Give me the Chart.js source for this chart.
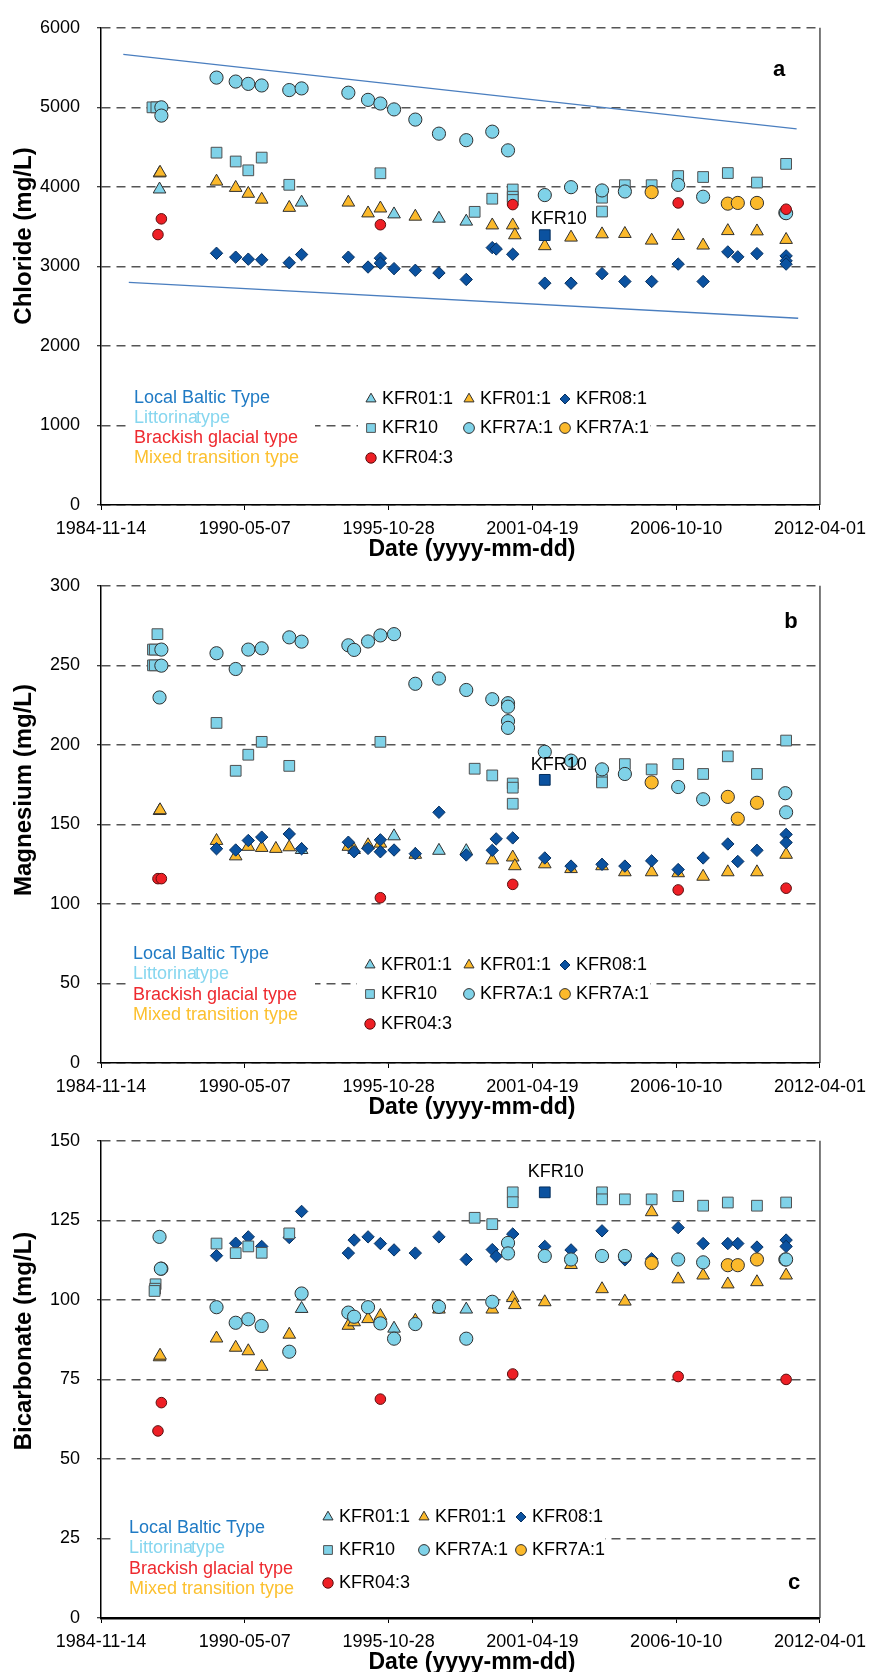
<!DOCTYPE html>
<html>
<head>
<meta charset="utf-8">
<script src="https://cdn.jsdelivr.net/npm/chart.js@4.4.1/dist/chart.umd.min.js"></script>
<style>
  html, body { margin: 0; padding: 0; background: #fff; overflow: hidden; width: 874px; height: 1672px; }
  canvas { position: absolute; left: 0; }
</style>
</head>
<body>
<canvas id="cl" width="874" height="562" style="top:0px"></canvas>
<canvas id="mg" width="874" height="562" style="top:558px"></canvas>
<canvas id="hco3" width="874" height="562" style="top:1113px"></canvas>
<script>
// x axis: sampling dates as decimal years, ticks every 2000 days from 1984-11-14
const tickYears = [1984.871, 1990.347, 1995.823, 2001.298, 2006.773, 2012.249];
const tickLabels = ['1984-11-14', '1990-05-07', '1995-10-28', '2001-04-19', '2006-10-10', '2012-04-01'];

const waterTypes = ['Local Baltic Type', 'Littorina', 'Brackish glacial type', 'Mixed transition type'];
const waterTypeColors = ['#1f7ac4', '#86d6ef', '#ee2a2f', '#fcc02f'];

// legend order: KFR01:1 (light), KFR01:1 (yellow), KFR08:1, KFR10, KFR7A:1 (light), KFR7A:1 (orange), KFR04:3
const seriesNames = ['KFR01:1', 'KFR01:1', 'KFR08:1', 'KFR10', 'KFR7A:1', 'KFR7A:1', 'KFR04:3'];

// ---- Chloride (mg/L) ----
const clTriLight = [[1987.10,3969],[1992.51,3804],[1996.03,3656],[1997.74,3602],[1998.78,3565]];
const clTriYellow = [[1987.10,4171],[1987.12,4180],[1989.27,4068],[1990.00,3989],[1990.48,3915],[1990.99,3841],[1992.04,3738],[1994.29,3804],[1995.04,3668],[1995.51,3730],[1996.84,3627],[1999.77,3517],[2000.55,3517],[2000.63,3393],[2001.77,3256],[2002.77,3364],[2003.95,3405],[2004.82,3410],[2005.84,3326],[2006.85,3384],[2007.80,3264],[2008.74,3446],[2009.85,3442],[2010.96,3335]];
const clDiamond = [[1989.27,3165],[1990.00,3116],[1990.48,3091],[1990.99,3083],[1992.04,3046],[1992.51,3149],[1994.29,3116],[1995.04,2992],[1995.51,3103],[1995.51,3041],[1996.03,2972],[1996.84,2951],[1997.74,2918],[1998.78,2836],[1999.77,3236],[1999.92,3219],[2000.55,3153],[2001.77,2789],[2002.77,2789],[2003.95,2909],[2004.82,2810],[2005.84,2810],[2006.85,3029],[2007.80,2810],[2008.74,3182],[2009.12,3120],[2009.85,3161],[2010.96,3132],[2010.96,3070],[2010.96,3029]];
const clSquare = [[1986.83,5000],[1986.98,5000],[1989.27,4430],[1990.00,4319],[1990.48,4208],[1990.99,4368],[1992.04,4026],[1995.51,4171],[1999.10,3686],[1999.77,3851],[2000.55,3967],[2000.55,3876],[2000.55,3835],[2003.95,3864],[2003.95,3690],[2004.82,4021],[2005.84,4021],[2006.85,4136],[2007.80,4124],[2008.74,4174],[2009.85,4054],[2010.96,4289]];
const clCircle = [[1987.17,5000],[1987.17,4896],[1989.27,5374],[1990.00,5324],[1990.48,5295],[1990.99,5275],[1992.04,5217],[1992.51,5238],[1994.29,5184],[1995.04,5094],[1995.51,5048],[1996.03,4974],[1996.84,4846],[1997.74,4669],[1998.78,4587],[1999.77,4694],[2000.37,4459],[2001.77,3897],[2002.77,3996],[2003.95,3955],[2004.82,3942],[2006.85,4025],[2007.80,3876],[2010.93,3675],[2010.96,3669]];
const clOrange = [[2005.84,3934],[2008.74,3789],[2009.12,3798],[2009.85,3798]];
const clRed = [[1987.04,3400],[1987.17,3598],[1995.51,3524],[2000.55,3777],[2006.85,3798],[2010.96,3719]];
const clKfr10 = [[2001.77,3393]];
const clTrendUpper = [[1985.72,5665],[2011.36,4730]];
const clTrendLower = [[1985.93,2800],[2011.42,2348]];

// ---- Magnesium (mg/L) ----
const mgTriLight = [[1992.51,134],[1996.03,142.6],[1997.74,133.5],[1998.78,133.3]];
const mgTriYellow = [[1987.10,158.5],[1987.12,159],[1989.27,139.7],[1990.00,130],[1990.48,136],[1990.99,135.3],[1991.53,134.7],[1992.04,135.7],[1994.29,136],[1994.51,134],[1995.04,137],[1995.51,138],[1996.84,131],[1999.77,127.5],[2000.55,129.3],[2000.63,123.8],[2001.77,125],[2002.77,122],[2003.95,123.8],[2004.82,120],[2005.84,120],[2006.85,119.4],[2007.80,117.2],[2008.74,120],[2009.85,120],[2010.96,131]];
const mgDiamond = [[1989.27,134.7],[1990.00,133.9],[1990.48,139.9],[1990.99,142],[1992.04,144],[1992.51,134.7],[1994.29,138.8],[1994.51,132.8],[1995.04,134.9],[1995.51,140.3],[1995.51,132.8],[1996.03,133.9],[1996.84,131.6],[1997.74,157.6],[1998.78,130.8],[1999.77,133.7],[1999.92,140.9],[2000.55,141.5],[2001.77,128.9],[2002.77,123.8],[2003.95,124.9],[2004.82,123.8],[2005.84,127.1],[2006.85,121.6],[2007.80,128.9],[2008.74,137.7],[2009.12,126.7],[2009.85,133.7],[2010.96,143.7],[2010.96,138.6]];
const mgSquare = [[1987.02,269.6],[1986.85,259.9],[1986.92,259.9],[1986.85,250],[1986.92,250],[1989.27,213.8],[1990.00,183.7],[1990.48,193.8],[1990.99,201.9],[1992.04,186.8],[1995.51,201.9],[1999.10,185],[1999.77,180.8],[2000.55,175.7],[2000.55,173.1],[2000.55,163],[2003.95,178],[2003.95,176.4],[2004.82,187.9],[2005.84,184.6],[2006.85,187.9],[2007.80,181.7],[2008.74,192.8],[2009.85,181.7],[2010.96,202.7]];
const mgCircle = [[1987.17,259.9],[1987.17,249.8],[1987.10,229.8],[1989.27,257.6],[1990.00,247.7],[1990.48,259.9],[1990.99,260.7],[1992.04,267.6],[1992.51,264.9],[1994.29,262.6],[1994.51,259.7],[1995.04,265],[1995.51,268.8],[1996.03,269.6],[1996.84,238.4],[1997.74,241.7],[1998.78,234.5],[1999.77,228.7],[2000.37,226.2],[2000.37,224],[2000.37,214.9],[2000.37,210.7],[2001.77,195.6],[2002.77,190.1],[2003.95,184.6],[2004.82,181.7],[2006.85,173.5],[2007.80,165.8],[2010.93,169.6],[2010.96,157.6]];
const mgOrange = [[2005.84,176.4],[2008.74,167.3],[2009.12,153.6],[2009.85,163.6]];
const mgRed = [[1987.04,115.9],[1987.17,115.9],[1995.51,103.9],[2000.55,112.3],[2006.85,108.8],[2010.96,109.9]];
const mgKfr10 = [[2001.77,178]];

// ---- Bicarbonate (mg/L) ----
const hcTriLight = [[1992.51,97.2],[1996.03,91],[1998.78,97]];
const hcTriYellow = [[1987.10,82],[1987.12,82.5],[1989.27,87.9],[1990.00,85],[1990.48,83.9],[1990.99,79],[1992.04,89.1],[1994.29,91.9],[1994.51,93],[1995.04,94],[1995.51,95],[1996.84,93.5],[1997.74,97],[1999.77,97],[2000.55,100.6],[2000.63,98.4],[2001.77,99.3],[2002.77,111],[2003.95,103.4],[2004.82,99.5],[2005.84,127.6],[2006.85,106.5],[2007.80,107.7],[2008.74,104.9],[2009.85,105.6],[2010.96,107.7]];
const hcDiamond = [[1989.27,113.9],[1990.00,117.8],[1990.48,119.8],[1990.99,116.8],[1992.04,119.6],[1992.51,127.8],[1994.29,114.7],[1994.51,118.8],[1995.04,119.8],[1995.51,117.7],[1996.03,115.7],[1996.84,114.7],[1997.74,119.8],[1998.78,112.7],[1999.77,115.8],[1999.92,113.7],[2000.55,120.7],[2001.77,116.8],[2002.77,115.7],[2003.95,121.7],[2004.82,112.6],[2005.84,112.9],[2006.85,122.7],[2007.80,117.7],[2008.74,117.7],[2009.12,117.7],[2009.85,116.6],[2010.96,118.8],[2010.96,116.8]];
const hcSquare = [[1986.95,104.9],[1986.93,103.5],[1986.91,102.8],[1989.27,117.7],[1990.00,114.7],[1990.48,116.8],[1990.99,114.8],[1992.04,120.9],[1999.10,125.8],[1999.77,123.8],[2000.55,133.8],[2000.55,130.7],[2003.95,133.8],[2003.95,131.6],[2004.82,131.6],[2005.84,131.6],[2006.85,132.6],[2007.80,129.6],[2008.74,130.6],[2009.85,129.6],[2010.96,130.6]];
const hcCircle = [[1987.10,119.8],[1987.17,109.8],[1987.15,109.8],[1989.27,97.7],[1990.00,92.8],[1990.48,93.9],[1990.99,91.8],[1992.04,83.7],[1992.51,102],[1994.29,96],[1994.51,94.7],[1995.04,97.7],[1995.51,92.6],[1996.03,87.8],[1996.84,92.4],[1997.74,97.8],[1998.78,87.8],[1999.77,99.4],[2000.37,117.9],[2000.37,114.6],[2001.77,113.8],[2002.77,112.7],[2003.95,113.8],[2004.82,113.8],[2006.85,112.7],[2007.80,111.8],[2010.93,112.7],[2010.96,112.7]];
const hcOrange = [[2005.84,111.6],[2008.74,110.9],[2009.12,110.9],[2009.85,112.7]];
const hcRed = [[1987.04,58.8],[1987.17,67.7],[1995.51,68.8],[2000.55,76.7],[2006.85,75.9],[2010.96,75]];
const hcKfr10 = [[2001.77,133.8]];

// marker look per series (same order as seriesNames)
const markerStyles = [
  { pointStyle: 'triangle', r: 7.3, fill: '#7fd2e8', edge: '#303030' },
  { pointStyle: 'triangle', r: 7.3, fill: '#fbb92b', edge: '#303030' },
  { pointStyle: 'rectRot', r: 6.2, fill: '#0b52a0', edge: '#08305e' },
  { pointStyle: 'rect', r: 7.6, fill: '#7fd2e8', edge: '#505050' },
  { pointStyle: 'circle', r: 6.6, fill: '#7fd2e8', edge: '#303030' },
  { pointStyle: 'circle', r: 6.6, fill: '#fbb92b', edge: '#303030' },
  { pointStyle: 'circle', r: 5.3, fill: '#ee1f25', edge: '#5a1010' }
];
const kfr10Style = { pointStyle: 'rect', r: 7.6, fill: '#0b52a0', edge: '#06305e' };

const FONT = '"Liberation Sans", Arial, sans-serif';
Chart.defaults.font.family = FONT;
Chart.defaults.color = '#000';

const toXY = pairs => pairs.map(p => ({ x: p[0], y: p[1] }));

function scatterSet(pairs, st, order) {
  return {
    data: toXY(pairs), order: order, showLine: false,
    pointStyle: st.pointStyle, pointRadius: st.r, pointHoverRadius: st.r,
    backgroundColor: st.fill, borderColor: st.edge, pointBorderWidth: 1, borderWidth: 1
  };
}

function drawMarker(ctx, st, x, y, r) {
  ctx.save();
  ctx.fillStyle = st.fill;
  ctx.strokeStyle = st.edge;
  ctx.lineWidth = 1;
  Chart.helpers.drawPoint(ctx, { pointStyle: st.pointStyle, radius: r, rotation: 0, borderWidth: 1 }, x, y);
  ctx.restore();
}

// extra drawing: frame, legend blocks, titles, panel letter, KFR10 note
const decor = {
  id: 'decor',
  beforeDatasetsDraw(chart, args, o) {
    const ctx = chart.ctx, a = chart.chartArea;
    ctx.save();
    ctx.fillStyle = '#fff';
    o.boxes.forEach(b => ctx.fillRect(b[0], b[1], b[2], b[3]));
    ctx.strokeStyle = '#333';
    ctx.lineWidth = 1.3;
    ctx.beginPath();
    ctx.moveTo(a.right, a.top);
    ctx.lineTo(a.right, a.bottom);
    ctx.stroke();
    ctx.restore();
  },
  afterDraw(chart, args, o) {
    const ctx = chart.ctx, a = chart.chartArea;
    ctx.save();
    // axis titles
    ctx.fillStyle = '#000';
    ctx.font = 'bold 23px ' + FONT;
    ctx.textAlign = 'center';
    ctx.textBaseline = 'middle';
    ctx.fillText('Date (yyyy-mm-dd)', 472, a.bottom + 45);
    ctx.save();
    ctx.translate(24, o.yTitleY);
    ctx.rotate(-Math.PI / 2);
    ctx.font = 'bold 24px ' + FONT;
    ctx.fillText(o.yTitle, 0, 0);
    ctx.restore();
    // panel letter
    ctx.font = 'bold 22px ' + FONT;
    ctx.fillText(o.letter, o.letterXY[0], o.letterXY[1]);
    // KFR10 note next to the highlighted sample
    const kp = o.kfr10Point;
    ctx.font = '18px ' + FONT;
    ctx.fillText('KFR10', chart.scales.x.getPixelForValue(kp[0]) + o.noteOffset[0],
      chart.scales.y.getPixelForValue(kp[1]) + o.noteOffset[1]);
    // water type list
    ctx.textAlign = 'left';
    waterTypes.forEach((t, i) => {
      ctx.fillStyle = waterTypeColors[i];
      const y = o.typeY0 + i * o.typeDy;
      ctx.fillText(t, o.typeX, y);
      if (i === 1) ctx.fillText('type', o.typeX + ctx.measureText(t).width - 2, y);
    });
    // series keys: 3 columns x 3 rows
    const cells = [[0, 0], [0, 1], [0, 2], [1, 0], [1, 1], [1, 2], [2, 0]];
    const keyR = [5.8, 5.8, 5, 6.2, 5.4, 5.4, 5.2];
    cells.forEach((c, i) => {
      const mx = o.keyCols[c[1]], my = o.keyRows[c[0]];
      drawMarker(ctx, markerStyles[i], mx, my, keyR[i]);
      ctx.fillStyle = '#000';
      ctx.fillText(seriesNames[i], mx + 11, my);
    });
    ctx.restore();
  }
};

function makePanel(id, p) {
  const series = [p.triLight, p.triYellow, p.diamond, p.square, p.circle, p.orange, p.red];
  const datasets = [];
  datasets.push(scatterSet(p.kfr10, kfr10Style, 0));
  series.forEach((s, i) => datasets.push(scatterSet(s, markerStyles[i], 7 - i)));
  p.trends.forEach(t => datasets.push({
    data: toXY(t), order: 20, showLine: true, pointRadius: 0,
    borderColor: '#4a7ebf', borderWidth: 1.3, fill: false
  }));

  new Chart(document.getElementById(id), {
    type: 'scatter',
    data: { datasets: datasets },
    plugins: [decor],
    options: {
      responsive: false, animation: false, devicePixelRatio: 1,
      layout: { padding: { top: 20, right: 47, left: 0, bottom: 0 } },
      plugins: {
        legend: { display: false }, tooltip: { enabled: false },
        decor: p.decor
      },
      scales: {
        x: {
          type: 'linear', min: tickYears[0], max: tickYears[tickYears.length - 1],
          afterBuildTicks: s => { s.ticks = tickYears.map(v => ({ value: v })); },
          afterFit: s => { s.height = 57; },
          ticks: {
            autoSkip: false, maxRotation: 0, padding: 8, color: '#000',
            font: { size: 18 },
            callback: (v, i) => tickLabels[i]
          },
          grid: { drawOnChartArea: false, drawTicks: true, tickLength: 5, tickColor: '#000', tickWidth: 1 },
          border: { color: '#000', width: p.xAxisWidth }
        },
        y: {
          min: 0, max: p.yMax,
          afterFit: s => { s.width = 101; },
          ticks: { stepSize: p.yStep, padding: 17, color: '#000', font: { size: 18 }, callback: v => String(v) },
          grid: { color: '#555', lineWidth: 1.5, tickLength: 4, tickColor: '#000', tickWidth: 1 },
          border: { color: '#000', width: 1.5, dash: [9, 6] }
        }
      }
    }
  });
}

makePanel('cl', {
  triLight: clTriLight, triYellow: clTriYellow, diamond: clDiamond, square: clSquare,
  circle: clCircle, orange: clOrange, red: clRed, kfr10: clKfr10,
  trends: [clTrendUpper, clTrendLower], yMax: 6000, yStep: 1000, xAxisWidth: 1.5,
  decor: {
    yTitle: 'Chloride (mg/L)', yTitleY: 236, letter: 'a', letterXY: [779, 70],
    kfr10Point: clKfr10[0], noteOffset: [14, -16],
    typeX: 134, typeY0: 398, typeDy: 20,
    keyCols: [371, 469, 565], keyRows: [399, 428, 458],
    boxes: [[131, 383, 184, 90], [358, 383, 292, 92]]
  }
});

makePanel('mg', {
  triLight: mgTriLight, triYellow: mgTriYellow, diamond: mgDiamond, square: mgSquare,
  circle: mgCircle, orange: mgOrange, red: mgRed, kfr10: mgKfr10,
  trends: [], yMax: 300, yStep: 50, xAxisWidth: 1.5,
  decor: {
    yTitle: 'Magnesium (mg/L)', yTitleY: 232, letter: 'b', letterXY: [791, 64],
    kfr10Point: mgKfr10[0], noteOffset: [14, -15],
    typeX: 133, typeY0: 396, typeDy: 20.3,
    keyCols: [370, 469, 565], keyRows: [407, 436, 466],
    boxes: [[131, 383, 184, 92], [357, 383, 293, 95]]
  }
});

makePanel('hco3', {
  triLight: hcTriLight, triYellow: hcTriYellow, diamond: hcDiamond, square: hcSquare,
  circle: hcCircle, orange: hcOrange, red: hcRed, kfr10: hcKfr10,
  trends: [], yMax: 150, yStep: 25, xAxisWidth: 2.5,
  decor: {
    yTitle: 'Bicarbonate (mg/L)', yTitleY: 228, letter: 'c', letterXY: [794, 470],
    kfr10Point: hcKfr10[0], noteOffset: [11, -20],
    typeX: 129, typeY0: 415, typeDy: 20.5,
    keyCols: [328, 424, 521], keyRows: [404, 437, 470],
    boxes: [[115, 383, 195, 100], [310, 383, 295, 100]]
  }
});
</script>
</body>
</html>
